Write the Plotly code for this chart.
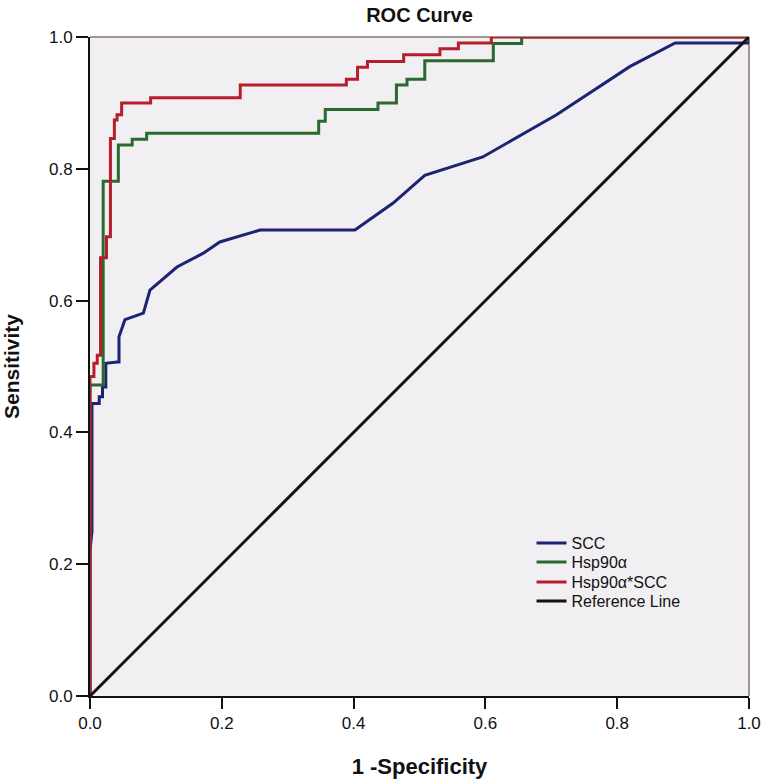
import plotly.graph_objects as go

# ---- data ----
scc_x = [0, 0, 0.003, 0.003, 0.014, 0.014, 0.019, 0.019, 0.024, 0.024, 0.041, 0.044, 0.044,
         0.053, 0.081, 0.091, 0.132, 0.172, 0.197, 0.258, 0.402, 0.46, 0.508, 0.596, 0.708,
         0.819, 0.888, 1.0, 1.0]
scc_y = [0, 0.22, 0.25, 0.444, 0.444, 0.454, 0.454, 0.469, 0.469, 0.505, 0.507, 0.507, 0.545,
         0.571, 0.581, 0.616, 0.651, 0.672, 0.689, 0.707, 0.707, 0.748, 0.79, 0.818, 0.882,
         0.955, 0.991, 0.991, 1.0]

hsp_x = [0, 0, 0.020, 0.020, 0.043, 0.043, 0.064, 0.064, 0.086, 0.086, 0.347, 0.347, 0.357,
         0.357, 0.437, 0.437, 0.465, 0.465, 0.481, 0.481, 0.508, 0.508, 0.612, 0.612, 0.655,
         0.655, 1.0]
hsp_y = [0, 0.472, 0.472, 0.781, 0.781, 0.836, 0.836, 0.845, 0.845, 0.854, 0.854, 0.872, 0.872,
         0.890, 0.890, 0.900, 0.900, 0.927, 0.927, 0.936, 0.936, 0.964, 0.964, 0.990, 0.990,
         1.0, 1.0]

comb_x = [0, 0, 0.006, 0.006, 0.011, 0.011, 0.016, 0.016, 0.025, 0.025, 0.031, 0.031, 0.037,
          0.037, 0.041, 0.041, 0.048, 0.048, 0.092, 0.092, 0.228, 0.228, 0.389, 0.389, 0.406,
          0.406, 0.421, 0.421, 0.476, 0.476, 0.531, 0.531, 0.559, 0.559, 0.609, 0.609, 1.0]
comb_y = [0, 0.485, 0.485, 0.505, 0.505, 0.517, 0.517, 0.665, 0.665, 0.697, 0.697, 0.846, 0.846,
          0.874, 0.874, 0.882, 0.882, 0.900, 0.900, 0.908, 0.908, 0.927, 0.927, 0.936, 0.936,
          0.954, 0.954, 0.963, 0.963, 0.973, 0.973, 0.982, 0.982, 0.991, 0.991, 1.0, 1.0]

ref_x = [0, 1]
ref_y = [0, 1]

series_names = ["SCC", "Hsp90α", "Hsp90α*SCC", "Reference Line"]
tick_vals = [0, 0.2, 0.4, 0.6, 0.8, 1.0]
tick_text = ["0.0", "0.2", "0.4", "0.6", "0.8", "1.0"]

colors = ["#1C2373", "#2A6A2E", "#B41F2B", "#111111"]
legend_ids = ["legend", "legend2", "legend3", "legend4"]

fig = go.Figure()
for xs, ys, name, col, lg in zip([scc_x, hsp_x, comb_x, ref_x],
                                 [scc_y, hsp_y, comb_y, ref_y],
                                 series_names, colors, legend_ids):
    fig.add_trace(go.Scatter(x=xs, y=ys, mode="lines", name=name, legend=lg,
                             line=dict(color=col, width=3), cliponaxis=False))

FONT = "Liberation Sans, Arial, sans-serif"

# legend rows: page-pixel centres 543, 562, 582, 601 ; plot area y 37..696
legend_row_px = [543, 562, 582, 601]
legend_layout = {}
for lg, py in zip(legend_ids, legend_row_px):
    legend_layout[lg] = dict(x=0.67, y=(696 - py) / 659, xanchor="left", yanchor="middle",
                             bgcolor="rgba(0,0,0,0)", font=dict(size=16, family=FONT))

fig.update_layout(
    width=766, height=784,
    margin=dict(l=90, r=17, t=37, b=88, autoexpand=False),
    paper_bgcolor="white", plot_bgcolor="#F1EFF1",
    font=dict(family=FONT, color="#111111"),
    title=dict(text="<b>ROC Curve</b>", x=(90 + 749) / 2 / 766, xanchor="center",
               y=1 - 15 / 784, yanchor="middle", font=dict(size=20, family=FONT),
               automargin=False),
    showlegend=True,
    xaxis=dict(range=[0, 1], tickvals=tick_vals, ticktext=tick_text,
               ticks="outside", ticklen=11, tickwidth=2, tickcolor="#111111",
               showline=True, linecolor="#111111", linewidth=2, showgrid=False,
               zeroline=False, tickfont=dict(size=17), automargin=False,
               title=dict(text="<b>1 -Specificity</b>", font=dict(size=22), standoff=26)),
    yaxis=dict(range=[0, 1], tickvals=tick_vals, ticktext=tick_text,
               ticks="outside", ticklen=12, tickwidth=2, tickcolor="#111111",
               showline=True, linecolor="#111111", linewidth=2, showgrid=False,
               zeroline=False, tickfont=dict(size=17), automargin=False,
               title=dict(text="<b>Sensitivity</b>", font=dict(size=21), standoff=34)),
    **legend_layout,
)

# gray frame on top and right
fig.add_shape(type="line", xref="x domain", yref="y domain", x0=0, x1=1, y0=1, y1=1,
              line=dict(color="#9E9690", width=2), layer="below")
fig.add_shape(type="line", xref="x domain", yref="y domain", x0=1, x1=1, y0=0, y1=1,
              line=dict(color="#9E9690", width=2), layer="below")

fig.write_html("out.html", config={"displayModeBar": False},
               post_script="document.body.style.margin='0';")
